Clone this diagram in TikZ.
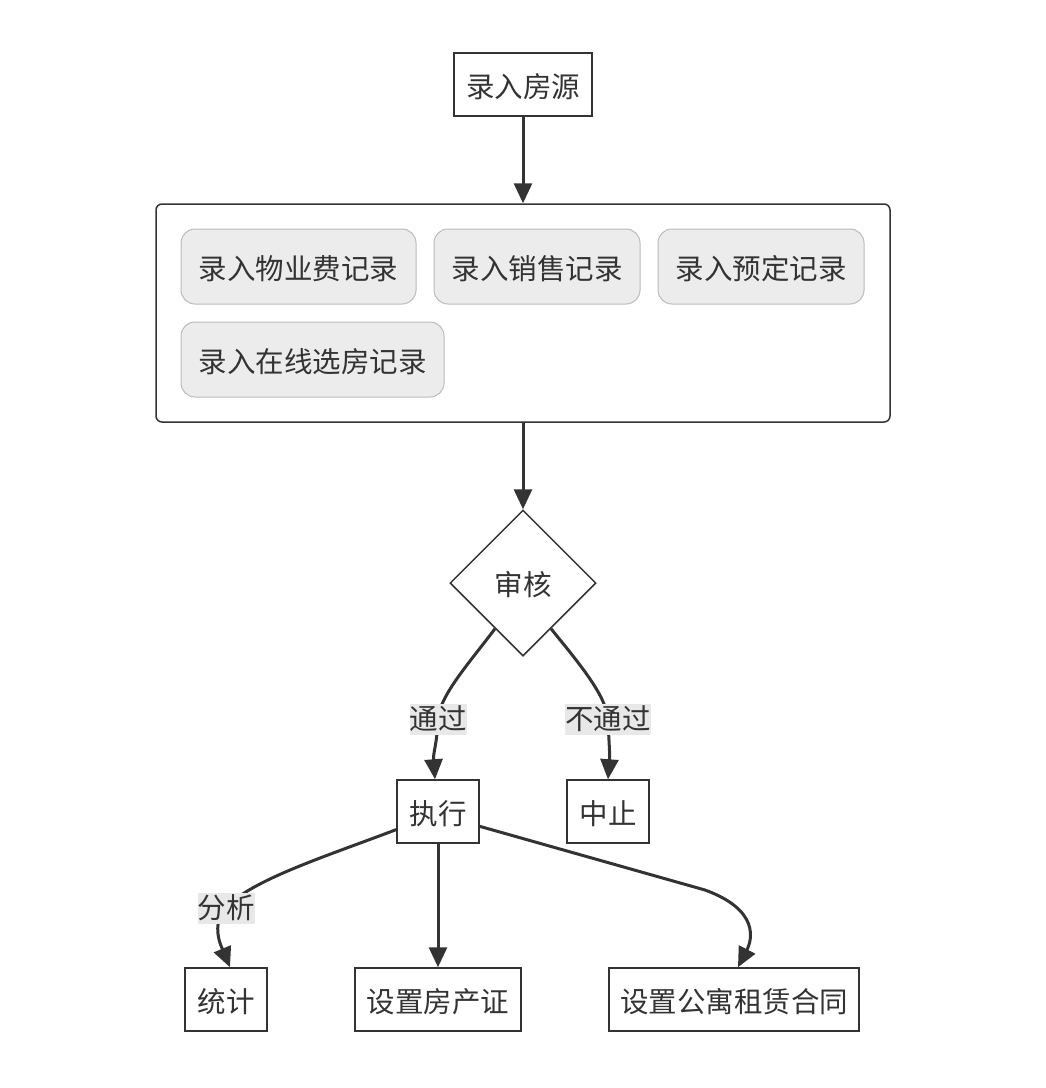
\documentclass[tikz,border=0pt]{standalone}
\usepackage{fontspec}
\newfontfamily\cjk{Noto Sans CJK SC}
\usetikzlibrary{arrows.meta,shapes.geometric,calc}
\definecolor{ink}{HTML}{333333}
\definecolor{boxgray}{HTML}{ECECEC}
\definecolor{boxline}{HTML}{BBBBBB}
\definecolor{lblgray}{HTML}{E8E8E8}
\begin{document}
\begin{tikzpicture}[x=1pt,y=-1pt,
 every node/.style={font=\cjk\fontsize{28.5pt}{34pt}\selectfont, text=ink},
 boxtext/.style={text height=25pt, text depth=0pt},
 plainbox/.style={boxtext, draw=ink, line width=1.5pt, fill=white, minimum height=63pt, inner xsep=0pt, inner ysep=0pt},
 graybox/.style={boxtext, draw=boxline, line width=1pt, fill=boxgray, rounded corners=14pt, minimum height=75pt, inner xsep=0pt},
 groupbox/.style={draw=ink, line width=1.5pt, fill=white, rounded corners=6pt},
 decision/.style={boxtext, diamond, draw=ink, line width=1.5pt, fill=white, minimum width=146pt, minimum height=146pt, inner sep=0pt},
 edgelbl/.style={fill=lblgray, inner xsep=0pt, inner ysep=2pt, text height=24pt, text depth=3pt},
 flow/.style={draw=ink, line width=3pt, -{Triangle[length=20pt,width=18pt]}}
]
\useasboundingbox (0,0) rectangle (1046,1088);
\fill[white] (0,0) rectangle (1046,1088);

\node[plainbox, minimum width=138pt] (src) at (523,84.5) {录入房源};
\node[groupbox, minimum width=734pt, minimum height=218pt] (grp) at (523,313) {};
\node[graybox, minimum width=235pt] (g1) at (298.5,266.5) {录入物业费记录};
\node[graybox, minimum width=206pt] (g2) at (537,266.5) {录入销售记录};
\node[graybox, minimum width=206pt] (g3) at (761,266.5) {录入预定记录};
\node[graybox, minimum width=263pt] (g4) at (312.5,359.5) {录入在线选房记录};

\node[decision] (dec) at (523,583) {审核};
\node[plainbox, minimum width=82pt] (exe) at (438,811.5) {执行};
\node[plainbox, minimum width=82pt] (stop) at (608,811.5) {中止};
\node[plainbox, minimum width=82pt] (stat) at (226,999.5) {统计};
\node[plainbox, minimum width=166pt] (cert) at (438,999.5) {设置房产证};
\node[plainbox, minimum width=250pt] (lease) at (734,999.5) {设置公寓租赁合同};

\draw[flow] (src) -- (grp);
\draw[flow] (grp) -- (dec);

\coordinate (p1) at ($(dec.west)!0.62!(dec.south)$);
\coordinate (p2) at ($(dec.east)!0.62!(dec.south)$);
\coordinate (lp1) at (438,719);
\coordinate (lp2) at (608,719);
\coordinate (lp3) at (226,908);
\coordinate (e1) at ($(exe.south west)!0.22!(exe.north west)$);
\coordinate (e2) at ($(exe.south east)!0.27!(exe.north east)$);
\coordinate (bend) at (705,890);

\draw[flow] (p1) .. controls (470,662) and (440,695) .. (lp1) .. controls (437,745) and (433,752) .. ($(exe.north)+(-3,0)$);
\draw[flow] (p2) .. controls (578,662) and (606,695) .. (lp2) .. controls (609,745) and (610,752) .. (stop.north);
\draw[flow] (e1) .. controls (330,855) and (250,880) .. (lp3) .. controls (210,925) and (222,948) .. ($(stat.north)+(4,0)$);
\draw[flow] (exe) -- (cert);
\draw[flow] (e2) -- (bend) .. controls (760,910) and (752,940) .. ($(lease.north)+(4,0)$);

\node[edgelbl] (l1) at (lp1) {通过};
\node[edgelbl] (l2) at (lp2) {不通过};
\node[edgelbl] (l3) at (lp3) {分析};
\end{tikzpicture}
\end{document}
